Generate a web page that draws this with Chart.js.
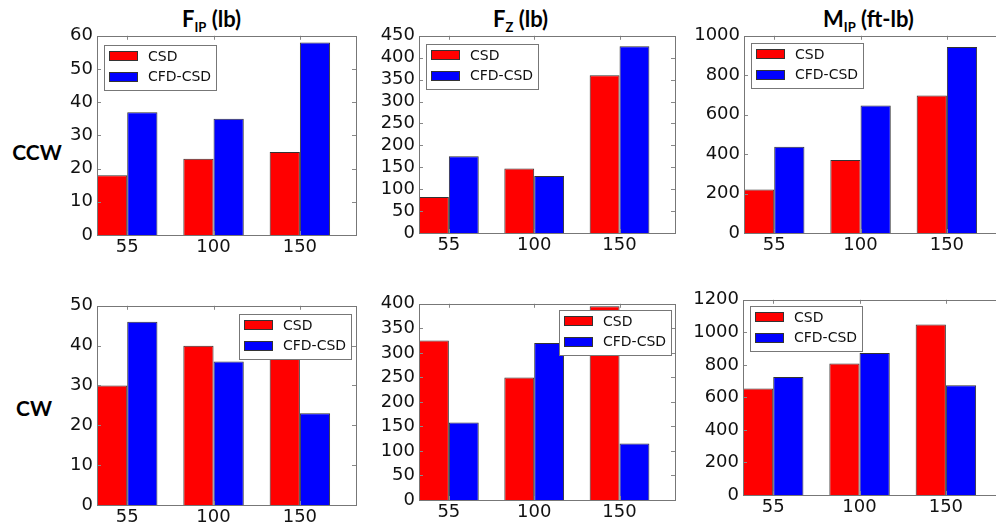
<!DOCTYPE html>
<html>
<head>
<meta charset="utf-8">
<script src="https://cdn.jsdelivr.net/npm/chart.js@4.4.1/dist/chart.umd.min.js"></script>
<style>
  body { margin: 0; background: #fff; }
  #page { position: relative; width: 996px; height: 527px; overflow: hidden; background: #fff; }
  canvas { position: absolute; }
  .title { position: absolute; font-family: Lato, sans-serif; font-weight: bold; font-size: 22px; line-height: 22px; color: #000; white-space: nowrap; }
  .title sub { font-size: 13px; vertical-align: -5px; line-height: 0; }
  .row { position: absolute; font-family: Lato, sans-serif; font-weight: bold; font-size: 21px; line-height: 21px; color: #000; transform: translate(-50%, -50%); }
</style>
</head>
<body>
<div id="page">
  <div class="title" style="left:182px; top:8px;">F<sub>IP</sub> (lb)</div>
  <div class="title" style="left:493px; top:8px;">F<sub>Z</sub> (lb)</div>
  <div class="title" style="left:823px; top:8px;">M<sub>IP</sub> (ft-lb)</div>
  <div class="row" style="left:37px; top:151px;">CCW</div>
  <div class="row" style="left:34px; top:407px;">CW</div>
  <canvas id="c1"></canvas>
  <canvas id="c2"></canvas>
  <canvas id="c3"></canvas>
  <canvas id="c4"></canvas>
  <canvas id="c5"></canvas>
  <canvas id="c6"></canvas>
</div>
<script>
const speeds = ["55", "100", "150"];
const seriesNames = ["CSD", "CFD-CSD"];
const seriesColors = ["#ff0000", "#0000ff"];
const barWidth = 0.35;

// CCW row
const ccwFipCsd = [18, 23, 25];
const ccwFipCfd = [37, 35, 58];
const ccwFzCsd = [82, 147, 360];
const ccwFzCfd = [175, 130, 426];
const ccwMipCsd = [220, 370, 697];
const ccwMipCfd = [438, 647, 943];

// CW row
const cwFipCsd = [30, 40, 38];
const cwFipCfd = [46, 36, 23];
const cwFzCsd = [325, 250, 395];
const cwFzCfd = [158, 320, 115];
const cwMipCsd = [655, 808, 1048];
const cwMipCfd = [725, 873, 675];

// y tick labels
const ccwFipTicks = [0, 10, 20, 30, 40, 50, 60];
const ccwFzTicks = [0, 50, 100, 150, 200, 250, 300, 350, 400, 450];
const ccwMipTicks = [0, 200, 400, 600, 800, 1000];
const cwFipTicks = [0, 10, 20, 30, 40, 50];
const cwFzTicks = [0, 50, 100, 150, 200, 250, 300, 350, 400];
const cwMipTicks = [0, 200, 400, 600, 800, 1000, 1200];

const panels = [
  { id: "c1", csd: ccwFipCsd, cfd: ccwFipCfd, yTicks: ccwFipTicks, box: [97, 33, 356, 235], legend: { align: "left", dx: 7, dy: 9 } },
  { id: "c2", csd: ccwFzCsd, cfd: ccwFzCfd, yTicks: ccwFzTicks, box: [419, 33, 675, 233], legend: { align: "left", dx: 7, dy: 8 } },
  { id: "c3", csd: ccwMipCsd, cfd: ccwMipCfd, yTicks: ccwMipTicks, box: [744, 33, 1003, 233], legend: { align: "left", dx: 7, dy: 7 } },
  { id: "c4", csd: cwFipCsd, cfd: cwFipCfd, yTicks: cwFipTicks, box: [97, 303, 356, 505], legend: { align: "right", dx: 5, dy: 8 } },
  { id: "c5", csd: cwFzCsd, cfd: cwFzCfd, yTicks: cwFzTicks, box: [419, 301, 675, 500], legend: { align: "right", dx: 4, dy: 6 } },
  { id: "c6", csd: cwMipCsd, cfd: cwMipCfd, yTicks: cwMipTicks, box: [743, 297, 1002, 495], legend: { align: "left", dx: 7, dy: 6 } },
];

const padLeft = 60, padTop = 12, padRight = 2, padBottom = 28;

// frame and inward tick marks, matplotlib classic look
const framePlugin = {
  id: "frame",
  afterDatasetsDraw(chart) {
    const ctx = chart.ctx;
    const a = chart.chartArea;
    const xs = chart.scales.x, ys = chart.scales.y;
    ctx.save();
    ctx.strokeStyle = "#888";
    ctx.lineWidth = 1;
    ctx.beginPath();
    xs.ticks.forEach((t) => {
      const px = Math.round(xs.getPixelForValue(t.value)) + 0.5;
      ctx.moveTo(px, a.bottom); ctx.lineTo(px, a.bottom - 4);
      ctx.moveTo(px, a.top); ctx.lineTo(px, a.top + 4);
    });
    ys.ticks.forEach((t) => {
      const py = Math.round(ys.getPixelForValue(t.value)) + 0.5;
      ctx.moveTo(a.left, py); ctx.lineTo(a.left + 4, py);
      ctx.moveTo(a.right, py); ctx.lineTo(a.right - 4, py);
    });
    ctx.stroke();
    ctx.strokeStyle = "#777";
    ctx.strokeRect(Math.round(a.left) + 0.5, Math.round(a.top) + 0.5, Math.round(a.right - a.left), Math.round(a.bottom - a.top));
    ctx.restore();
  },
};

const legendPlugin = {
  id: "boxLegend",
  afterDraw(chart, args, opts) {
    const ctx = chart.ctx;
    const a = chart.chartArea;
    ctx.save();
    ctx.font = "14px 'DejaVu Sans'";
    const sets = chart.data.datasets;
    const textW = Math.max(...sets.map((d) => ctx.measureText(d.label).width));
    const w = Math.round(44 + textW + 5), h = 45;
    const x = Math.round(opts.align === "right" ? a.right - opts.dx - w : a.left + opts.dx);
    const y = Math.round(a.top + opts.dy);
    ctx.fillStyle = "#fff";
    ctx.fillRect(x, y, w, h);
    ctx.strokeStyle = "#777";
    ctx.lineWidth = 1;
    ctx.strokeRect(x + 0.5, y + 0.5, w, h);
    sets.forEach((d, i) => {
      const cy = y + 11 + i * 20.5;
      ctx.fillStyle = d.backgroundColor;
      ctx.fillRect(x + 5, Math.round(cy - 5), 29, 10);
      ctx.strokeStyle = "#333";
      ctx.strokeRect(x + 5.5, Math.round(cy - 5) + 0.5, 28, 9);
      ctx.fillStyle = "#111";
      ctx.textBaseline = "middle";
      ctx.fillText(d.label, x + 44, cy + 1);
    });
    ctx.restore();
  },
};

function makePanel(p) {
  const [L, T, R, B] = p.box;
  const cv = document.getElementById(p.id);
  cv.width = R - L + padLeft + padRight;
  cv.height = B - T + padTop + padBottom;
  cv.style.left = (L - padLeft) + "px";
  cv.style.top = (T - padTop) + "px";

  const toPoints = (vals) => vals.map((v, i) => ({ x: i + barWidth, y: v }));

  return new Chart(cv, {
    type: "bar",
    data: {
      datasets: [
        { label: seriesNames[0], data: toPoints(p.csd), backgroundColor: seriesColors[0] },
        { label: seriesNames[1], data: toPoints(p.cfd), backgroundColor: seriesColors[1] },
      ],
    },
    options: {
      responsive: false,
      animation: false,
      devicePixelRatio: 1,
      layout: { padding: { left: 0, top: padTop, right: padRight, bottom: 0 } },
      datasets: {
        bar: {
          categoryPercentage: 2 * barWidth,
          barPercentage: 1.0,
          borderWidth: 1,
          borderColor: "#333",
          borderSkipped: "start",
        },
      },
      scales: {
        x: {
          type: "linear",
          min: 0,
          max: speeds.length,
          offset: false,
          grid: { display: false, drawTicks: false, offset: false },
          border: { display: false },
          afterBuildTicks: (s) => { s.ticks = speeds.map((_, i) => ({ value: i + barWidth })); },
          afterFit: (s) => { s.height = padBottom; },
          ticks: {
            padding: 2,
            color: "#111",
            font: { family: "'DejaVu Sans'", size: 18 },
            callback: (v, i) => speeds[i],
            maxRotation: 0,
            autoSkip: false,
          },
        },
        y: {
          min: p.yTicks[0],
          max: p.yTicks[p.yTicks.length - 1],
          grid: { display: false, drawTicks: false },
          border: { display: false },
          afterBuildTicks: (s) => { s.ticks = p.yTicks.map((v) => ({ value: v })); },
          afterFit: (s) => { s.width = padLeft; },
          ticks: {
            padding: 4,
            color: "#111",
            autoSkip: false,
            font: { family: "'DejaVu Sans'", size: 18 },
            callback: (v) => String(v),
          },
        },
      },
      plugins: {
        legend: { display: false },
        tooltip: { enabled: false },
        boxLegend: p.legend,
      },
    },
    plugins: [framePlugin, legendPlugin],
  });
}

panels.forEach(makePanel);
</script>
</body>
</html>
